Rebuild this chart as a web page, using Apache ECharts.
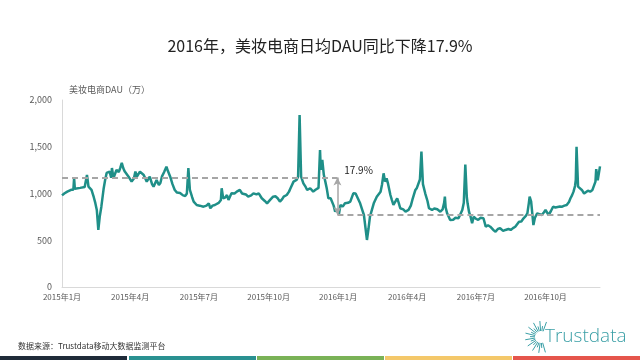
<!DOCTYPE html>
<html><head><meta charset="utf-8">
<script src="https://cdn.jsdelivr.net/npm/echarts@6/dist/echarts.min.js"></script>
<style>html,body{margin:0;padding:0;background:#fff}#c{width:640px;height:360px}</style>
</head><body><div id="c"></div>
<script>
const dates = [
'2015-01-01','2015-01-04','2015-01-08','2015-01-13','2015-01-16','2015-01-17','2015-01-18','2015-01-25','2015-01-31','2015-02-03',
'2015-02-05','2015-02-09','2015-02-12','2015-02-14','2015-02-16','2015-02-18','2015-02-20','2015-02-22','2015-02-25','2015-02-27',
'2015-03-01','2015-03-03','2015-03-05','2015-03-07','2015-03-08','2015-03-10','2015-03-14','2015-03-17','2015-03-19','2015-03-21',
'2015-03-23','2015-03-25','2015-03-30','2015-04-03','2015-04-06','2015-04-08','2015-04-10','2015-04-14','2015-04-19','2015-04-23',
'2015-04-27','2015-04-30','2015-05-02','2015-05-06','2015-05-09','2015-05-11','2015-05-13','2015-05-16','2015-05-19','2015-05-21',
'2015-05-24','2015-05-27','2015-05-30','2015-06-02','2015-06-06','2015-06-10','2015-06-13','2015-06-15','2015-06-17','2015-06-19',
'2015-06-22','2015-06-24','2015-06-28','2015-07-02','2015-07-07','2015-07-11','2015-07-14','2015-07-16','2015-07-19','2015-07-22',
'2015-07-27','2015-07-30','2015-07-31','2015-08-02','2015-08-05','2015-08-07','2015-08-09','2015-08-13','2015-08-17','2015-08-20',
'2015-08-24','2015-08-27','2015-08-29','2015-09-01','2015-09-04','2015-09-08','2015-09-11','2015-09-15','2015-09-18','2015-09-22',
'2015-09-26','2015-09-29','2015-10-03','2015-10-07','2015-10-10','2015-10-13','2015-10-16','2015-10-19','2015-10-21','2015-10-25',
'2015-10-28','2015-10-30','2015-11-03','2015-11-07','2015-11-09','2015-11-11','2015-11-13','2015-11-16','2015-11-19','2015-11-21',
'2015-11-25','2015-11-29','2015-12-02','2015-12-04','2015-12-06','2015-12-08','2015-12-09','2015-12-11','2015-12-13','2015-12-15',
'2015-12-17','2015-12-19','2015-12-22','2015-12-24','2015-12-26','2015-12-28','2015-12-30',
'2016-01-02','2016-01-04','2016-01-07','2016-01-10','2016-01-14','2016-01-17','2016-01-21','2016-01-24','2016-01-26','2016-01-30',
'2016-02-02','2016-02-04','2016-02-08','2016-02-10','2016-02-12','2016-02-17','2016-02-21','2016-02-26','2016-02-28','2016-03-01',
'2016-03-03','2016-03-05','2016-03-07','2016-03-10','2016-03-12','2016-03-14','2016-03-17','2016-03-19','2016-03-21','2016-03-23',
'2016-03-27','2016-03-30','2016-04-03','2016-04-06','2016-04-08','2016-04-12','2016-04-14','2016-04-16','2016-04-18','2016-04-20',
'2016-04-22','2016-04-25','2016-04-28','2016-04-30','2016-05-04','2016-05-07','2016-05-11','2016-05-15','2016-05-18','2016-05-20',
'2016-05-21','2016-05-22','2016-05-24','2016-05-28','2016-06-01','2016-06-04','2016-06-06','2016-06-08','2016-06-10','2016-06-13',
'2016-06-15','2016-06-17','2016-06-19','2016-06-20','2016-06-22','2016-06-24','2016-06-26','2016-06-28','2016-07-01','2016-07-04',
'2016-07-07','2016-07-11','2016-07-14','2016-07-17','2016-07-20','2016-07-24','2016-07-27','2016-07-30','2016-08-02','2016-08-06',
'2016-08-09','2016-08-13','2016-08-16','2016-08-19','2016-08-22','2016-08-27','2016-08-30','2016-09-02','2016-09-05','2016-09-07',
'2016-09-09','2016-09-10','2016-09-12','2016-09-15','2016-09-17','2016-09-20','2016-09-23','2016-09-26','2016-09-29','2016-10-01',
'2016-10-05','2016-10-08','2016-10-11','2016-10-14','2016-10-16','2016-10-20','2016-10-23','2016-10-26','2016-10-29','2016-11-01',
'2016-11-03','2016-11-05','2016-11-07','2016-11-09','2016-11-10','2016-11-11','2016-11-13','2016-11-18','2016-11-21','2016-11-23',
'2016-11-26','2016-11-29','2016-12-02','2016-12-04','2016-12-06','2016-12-07','2016-12-09','2016-12-12'
];
const dau = [
980,1000,1020,1040,1040,1166,1050,1060,1070,1198,
1073,1038,960,899,824,610,760,859,1050,1145,
1220,1200,1234,1170,1273,1166,1252,1230,1273,1327,
1270,1234,1180,1127,1160,1234,1180,1234,1198,1127,
1180,1100,1073,1145,1090,1112,1180,1230,1287,1240,
1180,1100,1038,1010,1005,980,974,1000,1273,1038,
960,913,877,870,859,870,895,842,870,877,
899,930,1056,949,960,984,931,1002,1000,1020,
1038,1000,984,990,966,980,1002,990,1002,949,
920,895,931,966,970,949,913,940,966,984,
1020,1056,1127,1145,1180,1840,1180,1109,1070,1038,
1056,1020,1040,1020,1060,1466,1252,1359,1200,1127,
1050,949,950,931,870,806,830,
780,877,860,895,900,913,1002,1000,984,895,
820,770,503,620,752,895,966,1020,1100,1216,
1127,1163,1100,984,930,877,920,949,900,842,
830,806,824,870,931,1038,1060,1073,1150,1448,
1100,1002,920,842,824,840,831,806,830,900,
966,850,788,717,720,740,752,735,770,824,
900,1310,960,895,800,752,681,752,730,717,
740,735,645,660,645,610,592,620,628,600,
610,620,610,630,645,699,700,735,760,788,
900,966,913,663,740,788,780,770,800,824,
770,810,859,850,842,860,859,870,877,910,
949,980,1020,1080,1145,1500,1073,1038,1000,1002,
1030,1020,1038,1050,1127,1260,1140,1290
];
const xTicks = ['2015-01-01','2015-04-01','2015-07-01','2015-10-01','2016-01-01','2016-04-01','2016-07-01','2016-10-01'];
const xRange = ['2015-01-01','2016-12-12'];
const avg2015 = 1170, avg2016 = 770, yearSplit = '2015-12-31';
const dropLabel = '17.9%', dropLabelPos = ['2016-01-09', 1250];

const chart = echarts.init(document.getElementById('c'));
const ts = s => { const p = s.split('-'); return Date.UTC(+p[0], +p[1]-1, +p[2]); };
const seriesData = dates.map((d, i) => [ts(d), dau[i]]);
const font = '"Noto Sans CJK SC","Microsoft YaHei",sans-serif';

// logo rays
const rays = [];
for (let k = 0; k < 19; k++) {
  const a = (70 + k * 12) * Math.PI / 180;
  const r0 = 6, r1 = (k % 2 === 0) ? 16 : 11;
  const cx = 541, cy = 337;
  rays.push({ type: 'line', shape: { x1: cx + r0*Math.cos(a), y1: cy - r0*Math.sin(a), x2: cx + r1*Math.cos(a), y2: cy - r1*Math.sin(a) },
    style: { stroke: '#3a9fa6', lineWidth: 1 } });
}
const barColors = ['#1f2b39','#2a9191','#7ab257','#f4c86a','#e5554c'];
const bars = barColors.map((c, i) => ({ type: 'rect', shape: { x: i * 128 + (i ? 1 : 0), y: 356, width: 127, height: 4 }, style: { fill: c } }));

chart.setOption({
  animation: false,
  textStyle: { fontFamily: font },
  title: { text: '2016年，美妆电商日均DAU同比下降17.9%', left: 'center', top: 33,
    textStyle: { fontSize: 16, fontWeight: 'normal', color: '#222', fontFamily: font } },
  grid: { left: 62, right: 40, top: 100, bottom: 73 },
  xAxis: { type: 'value', min: ts(xRange[0]), max: ts(xRange[1]),
    axisLine: { lineStyle: { color: '#d9d9d9' } }, axisTick: { show: false }, splitLine: { show: false },
    axisLabel: { customValues: xTicks.map(ts), color: '#595959', fontSize: 8, margin: 6, hideOverlap: false,
      formatter: v => { const d = new Date(v); return d.getUTCFullYear() + '年' + (d.getUTCMonth() + 1) + '月'; } } },
  yAxis: { type: 'value', min: 0, max: 2000, interval: 500,
    name: '美妆电商DAU（万）', nameLocation: 'end', nameGap: 6,
    nameTextStyle: { color: '#595959', fontSize: 9, align: 'left', padding: [0, 0, 0, 7] },
    axisLine: { show: true, lineStyle: { color: '#d9d9d9' } }, axisTick: { show: false }, splitLine: { show: false },
    axisLabel: { color: '#595959', fontSize: 9, margin: 10, formatter: v => v.toLocaleString('en-US') } },
  series: [{
    type: 'line', data: seriesData, showSymbol: false, symbol: 'none',
    lineStyle: { color: '#1f8f88', width: 2.5 }, z: 3,
    markLine: { silent: true, symbol: 'none', label: { show: false }, animation: false,
      data: [
        [{ coord: [ts(xRange[0]), avg2015], lineStyle: { color: '#a6a6a6', width: 2, type: [6, 4] } }, { coord: [ts(yearSplit), avg2015] }],
        [{ coord: [ts(yearSplit), avg2016], lineStyle: { color: '#a6a6a6', width: 2, type: [6, 4] } }, { coord: [ts(xRange[1]), avg2016] }],
        [{ coord: [ts(yearSplit), avg2015], symbol: 'arrow', symbolSize: [6, 8], lineStyle: { color: '#a6a6a6', width: 1.5, type: 'solid' } },
         { coord: [ts(yearSplit), avg2016], symbol: 'arrow', symbolSize: [6, 8] }]
      ] },
    markPoint: { silent: true, symbol: 'circle', symbolSize: 0,
      data: [{ coord: [ts(dropLabelPos[0]), dropLabelPos[1]], label: { show: true, position: 'right', distance: 0, formatter: dropLabel, color: '#222', fontSize: 10 } }] }
  }],
  graphic: [
    { type: 'text', left: 18, top: 342, style: { text: '数据来源：Trustdata移动大数据监测平台', fill: '#333', font: '8px ' + font } },
    { type: 'text', left: 545, top: 327, style: { text: 'Trustdata', fill: '#3a9fa6', font: '300 19px "Open Sans",Lato,sans-serif' } },
    ...rays, ...bars
  ]
});
</script></body></html>
